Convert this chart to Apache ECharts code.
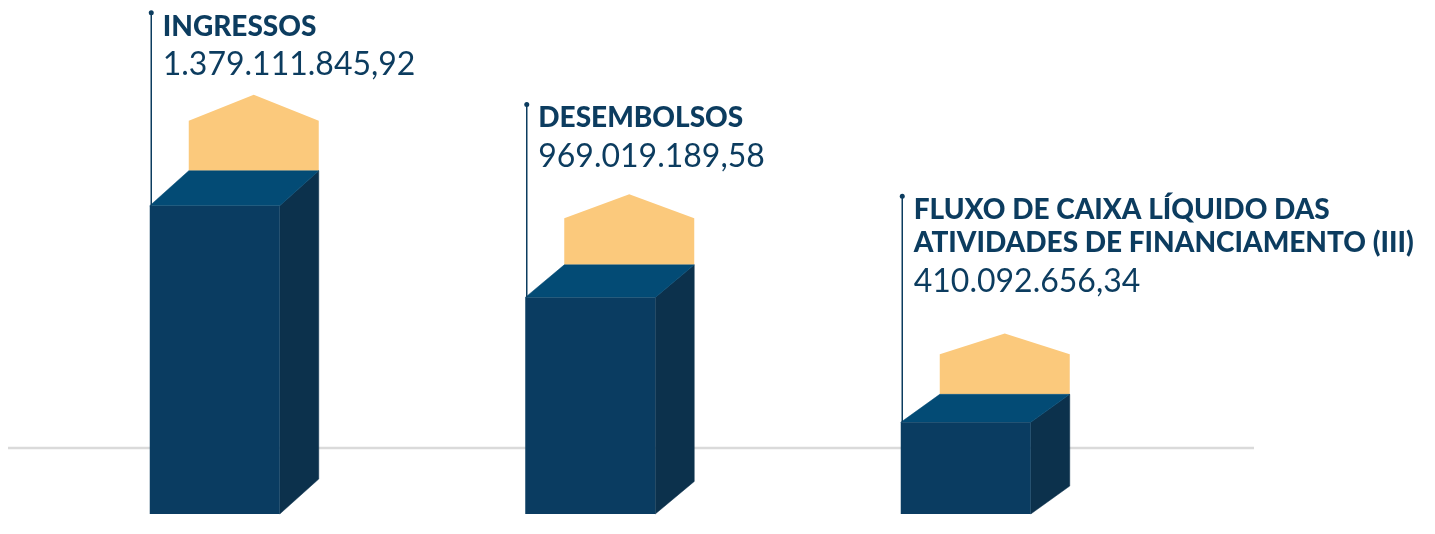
<!DOCTYPE html>
<html>
<head>
<meta charset="utf-8">
<script src="https://cdn.jsdelivr.net/npm/echarts@6/dist/echarts.min.js"></script>
<style>
  html, body { margin: 0; padding: 0; background: #fff; }
  #chart { width: 1435px; height: 534px; }
</style>
</head>
<body>
<div id="chart"></div>
<script>
// 数据
const categories = [
  "INGRESSOS",
  "DESEMBOLSOS",
  "FLUXO DE CAIXA LÍQUIDO DAS\nATIVIDADES DE FINANCIAMENTO (III)"
];
const values = [1379111845.92, 969019189.58, 410092656.34];

// 巴西格式: 1.379.111.845,92
function formatBR(v) {
  const parts = v.toFixed(2).split(".");
  const int = parts[0].replace(/\B(?=(\d{3})+(?!\d))/g, ".");
  return int + "," + parts[1];
}

const TEXT_COLOR = "#0c3c5f";
const FRONT = "#0a3c61";
const TOP = "#034b75";
const SIDE = "#0c314c";
const ROOF = "#fbc97c";
const BAR_W = 130;
const DX = 39;
// 轻微透视，后面的柱子更“远”
const PERSP = [1.0, 0.93, 0.8];

function renderBar(params, api) {
  const idx = api.value(0);
  const top = api.coord([idx, api.value(1)]);
  const base = api.coord([idx, 0]);
  const p = PERSP[params.dataIndex] || 1;
  const dy = 35 * p;
  const roofH = 50 * p;
  const peakH = 26 * p;
  const x0 = top[0] - BAR_W / 2;
  const x1 = x0 + BAR_W;
  const y0 = top[1];
  const y1 = base[1];
  const lines = categories[params.dataIndex].split("\n").length;
  const titleLast = y0 - 179;
  const dotY = titleLast - 33 * (lines - 1) - 14;

  return {
    type: "group",
    children: [
      // 屋顶 (黄色)
      {
        type: "polygon",
        shape: { points: [
          [x0 + DX, y0 - dy], [x0 + DX, y0 - dy - roofH],
          [x0 + DX + BAR_W / 2, y0 - dy - roofH - peakH],
          [x1 + DX, y0 - dy - roofH], [x1 + DX, y0 - dy]
        ] },
        style: { fill: ROOF }
      },
      // 侧面
      {
        type: "polygon",
        shape: { points: [[x1, y0], [x1 + DX, y0 - dy], [x1 + DX, y1 - dy], [x1, y1]] },
        style: { fill: SIDE, stroke: SIDE, lineWidth: 0.5 }
      },
      // 顶面
      {
        type: "polygon",
        shape: { points: [[x0, y0], [x1, y0], [x1 + DX, y0 - dy], [x0 + DX, y0 - dy]] },
        style: { fill: TOP, stroke: TOP, lineWidth: 0.5 }
      },
      // 正面
      {
        type: "rect",
        shape: { x: x0, y: y0, width: BAR_W, height: y1 - y0 },
        style: { fill: FRONT }
      },
      // 引线
      {
        type: "line",
        shape: { x1: x0 + 1.5, y1: dotY, x2: x0 + 1.5, y2: y0 },
        style: { stroke: TEXT_COLOR, lineWidth: 1.5 }
      },
      {
        type: "circle",
        shape: { cx: x0 + 1.5, cy: dotY, r: 2.5 },
        style: { fill: TEXT_COLOR }
      },
      // 标题
      {
        type: "text",
        style: {
          text: categories[params.dataIndex],
          x: x0 + 13,
          y: titleLast + 16.5,
          verticalAlign: "bottom",
          align: "left",
          lineHeight: 33,
          font: "900 28px Lato",
          fill: TEXT_COLOR
        }
      },
      // 数值
      {
        type: "text",
        style: {
          text: formatBR(api.value(1)),
          x: x0 + 13,
          y: y0 - 141,
          verticalAlign: "middle",
          align: "left",
          font: "32px Lato",
          fill: TEXT_COLOR
        }
      }
    ]
  };
}

const chart = echarts.init(document.getElementById("chart"));

const option = {
  backgroundColor: "#fff",
  animation: false,
  grid: { left: 27, right: 281.5, top: 67, bottom: 20 },
  xAxis: { type: "category", data: categories, show: false },
  yAxis: { type: "value", min: 0, max: 2000000000, show: false },
  graphic: [
    {
      type: "line",
      z: 0,
      shape: { x1: 8, y1: 448, x2: 1254, y2: 448 },
      style: { stroke: "#dadada", lineWidth: 2.5 }
    }
  ],
  series: [
    {
      type: "custom",
      z: 5,
      clip: false,
      renderItem: renderBar,
      data: values.map((v, i) => [i, v])
    }
  ]
};

chart.setOption(option);
window.onresize = () => chart.resize();
</script>
</body>
</html>
